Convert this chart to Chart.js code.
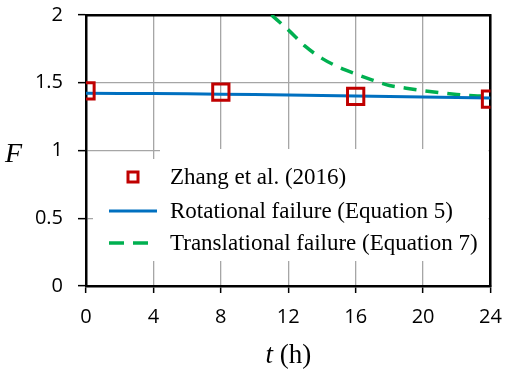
<!DOCTYPE html>
<html lang="en">
<head>
    <meta charset="UTF-8">
    <title>F vs t</title>
    <script src="https://cdn.jsdelivr.net/npm/chart.js"></script>
    <style>
        body { margin: 0; background: #fff; }
        .wrap { position: relative; width: 505px; height: 374px; }
    </style>
</head>
<body>
    <div class="wrap"><canvas id="fChart"></canvas></div>

    <script>
        // values
        const zhangT = [0, 8, 16, 24];
        const zhangF = [1.44, 1.43, 1.40, 1.38];

        const rotT = [0, 4, 8, 12, 16, 20, 24];
        const rotF = [1.422, 1.420, 1.416, 1.410, 1.402, 1.394, 1.388];

        const transT = [11, 12, 13, 14, 15, 16, 17, 18, 19, 20, 21, 22, 23, 24];
        const transF = [2.0, 1.89, 1.77, 1.68, 1.615, 1.565, 1.52, 1.48, 1.46, 1.442, 1.427, 1.414, 1.404, 1.40];

        const legendLabels = ["Zhang et al. (2016)", "Rotational failure (Equation 5)", "Translational failure (Equation 7)"];

        const RED = "#C00000", BLUE = "#0070C0", GREEN = "#00B050";
        const GRID = "#A6A6A6";

        function pts(xs, ys) {
            return xs.map((x, i) => ({ x: x, y: ys[i] }));
        }

        // legend box drawn inside the plot, plus the mixed-style axis titles
        const extras = {
            id: "extras",
            afterDatasetsDraw(chart) {
                const ctx = chart.ctx;
                const a = chart.chartArea;
                ctx.save();
                ctx.fillStyle = "#fff";
                ctx.fillRect(a.left + 74, a.top + 134, a.right - a.left - 76, 112);
                ctx.fillRect(a.left + 7, a.top + 144, 70, 102);

                const rows = [a.top + 162, a.top + 196, a.top + 228];
                const x0 = a.left + 23, x1 = a.left + 71, tx = a.left + 84;

                // marker
                ctx.strokeStyle = RED;
                ctx.lineWidth = 3;
                ctx.strokeRect(a.left + 42, rows[0] - 5, 10, 10);

                // solid line
                ctx.strokeStyle = BLUE;
                ctx.lineWidth = 3;
                ctx.beginPath();
                ctx.moveTo(x0, rows[1]);
                ctx.lineTo(x1, rows[1]);
                ctx.stroke();

                // dashed line
                ctx.strokeStyle = GREEN;
                ctx.lineWidth = 3.5;
                ctx.setLineDash([15, 9]);
                ctx.beginPath();
                ctx.moveTo(x0, rows[2]);
                ctx.lineTo(x0 + 39, rows[2]);
                ctx.stroke();
                ctx.setLineDash([]);

                ctx.fillStyle = "#000";
                ctx.font = "23px 'Liberation Serif'";
                ctx.textAlign = "left";
                ctx.textBaseline = "middle";
                legendLabels.forEach((t, i) => ctx.fillText(t, tx, rows[i] + 1));
                ctx.restore();
            },
            afterDraw(chart) {
                const ctx = chart.ctx;
                ctx.save();
                ctx.fillStyle = "#000";
                ctx.textBaseline = "alphabetic";
                ctx.textAlign = "left";

                // y title
                ctx.font = "italic 28px 'Liberation Serif'";
                ctx.fillText("F", 5, 162);

                // x title: italic t, upright (h)
                ctx.font = "italic 27px 'Liberation Serif'";
                const w1 = ctx.measureText("t").width;
                ctx.font = "27px 'Liberation Serif'";
                const w2 = ctx.measureText(" (h)").width;
                const cx = chart.scales.x.getPixelForValue(12);
                let x = cx - (w1 + w2) / 2;
                ctx.font = "italic 27px 'Liberation Serif'";
                ctx.fillText("t", x, 363);
                ctx.font = "27px 'Liberation Serif'";
                ctx.fillText(" (h)", x + w1, 363);
                ctx.restore();
            }
        };

        const tickFont = { family: "'Open Sans'", size: 20 };

        function noPad(s) {
            s.paddingTop = 0; s.paddingBottom = 0;
            s.paddingLeft = 0; s.paddingRight = 0;
        }

        new Chart(document.getElementById("fChart"), {
            type: "scatter",
            data: {
                datasets: [
                    {
                        label: legendLabels[0],
                        data: pts(zhangT, zhangF),
                        showLine: false,
                        pointStyle: "rect",
                        pointRadius: 11.5,
                        pointBorderWidth: 3,
                        pointBorderColor: RED,
                        pointBackgroundColor: "rgba(0,0,0,0)"
                    },
                    {
                        label: legendLabels[1],
                        data: pts(rotT, rotF),
                        showLine: true,
                        borderColor: BLUE,
                        borderWidth: 3,
                        pointRadius: 0,
                        tension: 0.4
                    },
                    {
                        label: legendLabels[2],
                        data: pts(transT, transF),
                        showLine: true,
                        borderColor: GREEN,
                        borderWidth: 3.5,
                        borderDash: [13, 9],
                        pointRadius: 0,
                        tension: 0.4,
                        cubicInterpolationMode: "monotone"
                    }
                ]
            },
            options: {
                responsive: true,
                maintainAspectRatio: false,
                animation: false,
                layout: { padding: { top: 15, right: 13, left: 0, bottom: 0 } },
                plugins: {
                    legend: { display: false },
                    tooltip: { enabled: false }
                },
                scales: {
                    x: {
                        type: "linear",
                        min: 0, max: 24,
                        ticks: { stepSize: 4, font: tickFont, color: "#000", padding: 12 },
                        grid: { color: GRID, lineWidth: 1.3, tickLength: 7, tickColor: "#000", tickWidth: 1.5 },
                        border: { display: true, color: "#000", width: 2.5 },
                        afterFit(s) { s.height = 88; noPad(s); }
                    },
                    y: {
                        min: 0, max: 2,
                        ticks: {
                            stepSize: 0.5, font: tickFont, color: "#000", padding: 15,
                            callback: v => String(v)
                        },
                        grid: { color: GRID, lineWidth: 1.3, tickLength: 8, tickColor: "#000", tickWidth: 1.5 },
                        border: { display: true, color: "#000", width: 2.5 },
                        afterFit(s) { s.width = 86; noPad(s); }
                    },
                    x2: {
                        type: "linear", position: "top",
                        min: 0, max: 24,
                        ticks: { display: false },
                        grid: { drawOnChartArea: false, drawTicks: false },
                        border: { display: true, color: "#000", width: 2.5 },
                        afterFit(s) { s.height = 0; noPad(s); }
                    },
                    y2: {
                        type: "linear", position: "right",
                        min: 0, max: 2,
                        ticks: { display: false },
                        grid: { drawOnChartArea: false, drawTicks: false },
                        border: { display: true, color: "#000", width: 2.5 },
                        afterFit(s) { s.width = 0; noPad(s); }
                    }
                }
            },
            plugins: [extras]
        });
    </script>
</body>
</html>
